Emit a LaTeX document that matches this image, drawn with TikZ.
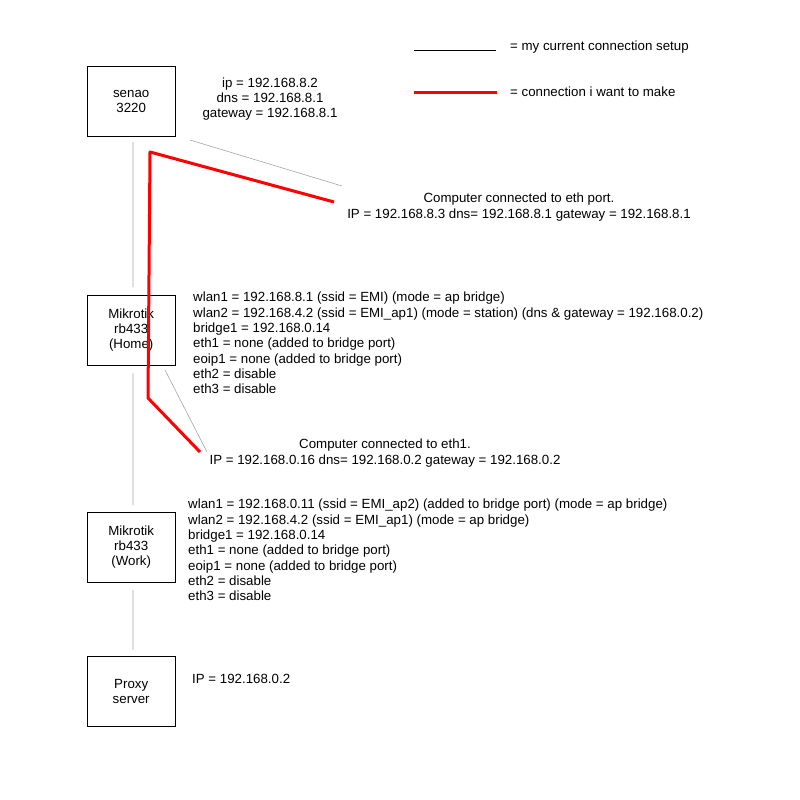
\documentclass[tikz,border=0pt]{standalone}
\usepackage{fontspec}
\setmainfont{Liberation Sans}
\begin{document}
\begin{tikzpicture}[x=1pt,y=-1pt,
  box/.style={draw,minimum width=88pt,minimum height=70pt,inner sep=0pt,align=center,anchor=north west},
  txt/.style={inner sep=0pt,font=\fontsize{13.3}{15.3}\selectfont},
  gl/.style={draw=gray!70,line width=0.6pt},
  rl/.style={draw=red,line width=3pt,line join=round}]
\useasboundingbox (0,0) rectangle (800,800);
\node[box,txt] (senao) at (87,66) {senao\\3220};
\node[box,txt] (home) at (87,295) {Mikrotik\\rb433\\(Home)};
\node[box,txt] (work) at (87,512) {Mikrotik\\rb433\\(Work)};
\node[box,txt] (proxy) at (87,656) {Proxy\\server};
% legend
\coordinate (la) at (414,50); \coordinate (lb) at (496,50);
\draw[line width=0.6pt] (la) -- (lb);
\node[txt,anchor=west] (lt1) at (510,47) {= my current connection setup};
\coordinate (ra) at (414,92); \coordinate (rb) at (497,92);
\draw[rl] (ra) -- (rb);
\node[txt,anchor=west] (lt2) at (510,92) {= connection i want to make};
% texts
\node[txt,align=center] (ip1) at (270,99) {ip = 192.168.8.2\\dns = 192.168.8.1\\gateway = 192.168.8.1};
\node[txt,align=center] (c1) at (519,207) {Computer connected to eth port.\\IP = 192.168.8.3 dns= 192.168.8.1 gateway = 192.168.8.1};
\node[txt,align=left,anchor=north west] (h) at (193,292) {wlan1 = 192.168.8.1 (ssid = EMI) (mode = ap bridge)\\wlan2 = 192.168.4.2 (ssid = EMI\_ap1) (mode = station) (dns \& gateway = 192.168.0.2)\\bridge1 = 192.168.0.14\\eth1 = none (added to bridge port)\\eoip1 = none (added to bridge port)\\eth2 = disable\\eth3 = disable};
\node[txt,align=center] (c2) at (385,453) {Computer connected to eth1.\\IP = 192.168.0.16 dns= 192.168.0.2 gateway = 192.168.0.2};
\node[txt,align=left,anchor=north west] (w) at (188,499) {wlan1 = 192.168.0.11 (ssid = EMI\_ap2) (added to bridge port) (mode = ap bridge)\\wlan2 = 192.168.4.2 (ssid = EMI\_ap1) (mode = ap bridge)\\bridge1 = 192.168.0.14\\eth1 = none (added to bridge port)\\eoip1 = none (added to bridge port)\\eth2 = disable\\eth3 = disable};
\node[txt,anchor=west] (pip) at (192,679) {IP = 192.168.0.2};
% gray connectors
\coordinate (g1) at (133,142); \coordinate (g2) at (133,287);
\coordinate (g3) at (133,373); \coordinate (g4) at (133,505);
\coordinate (g5) at (133,590); \coordinate (g6) at (133,650);
\coordinate (g7) at (190,140); \coordinate (g8) at (342,186);
\coordinate (g9) at (165,370); \coordinate (g10) at (207,452);
\draw[gl] (g1)--(g2) (g3)--(g4) (g5)--(g6) (g7)--(g8) (g9)--(g10);
% red
\coordinate (r1) at (334,202); \coordinate (r2) at (150,152);
\coordinate (r3) at (148,398); \coordinate (r4) at (200,452);
\draw[rl] (r1)--(r2)--(r3)--(r4);
\end{tikzpicture}
\end{document}
